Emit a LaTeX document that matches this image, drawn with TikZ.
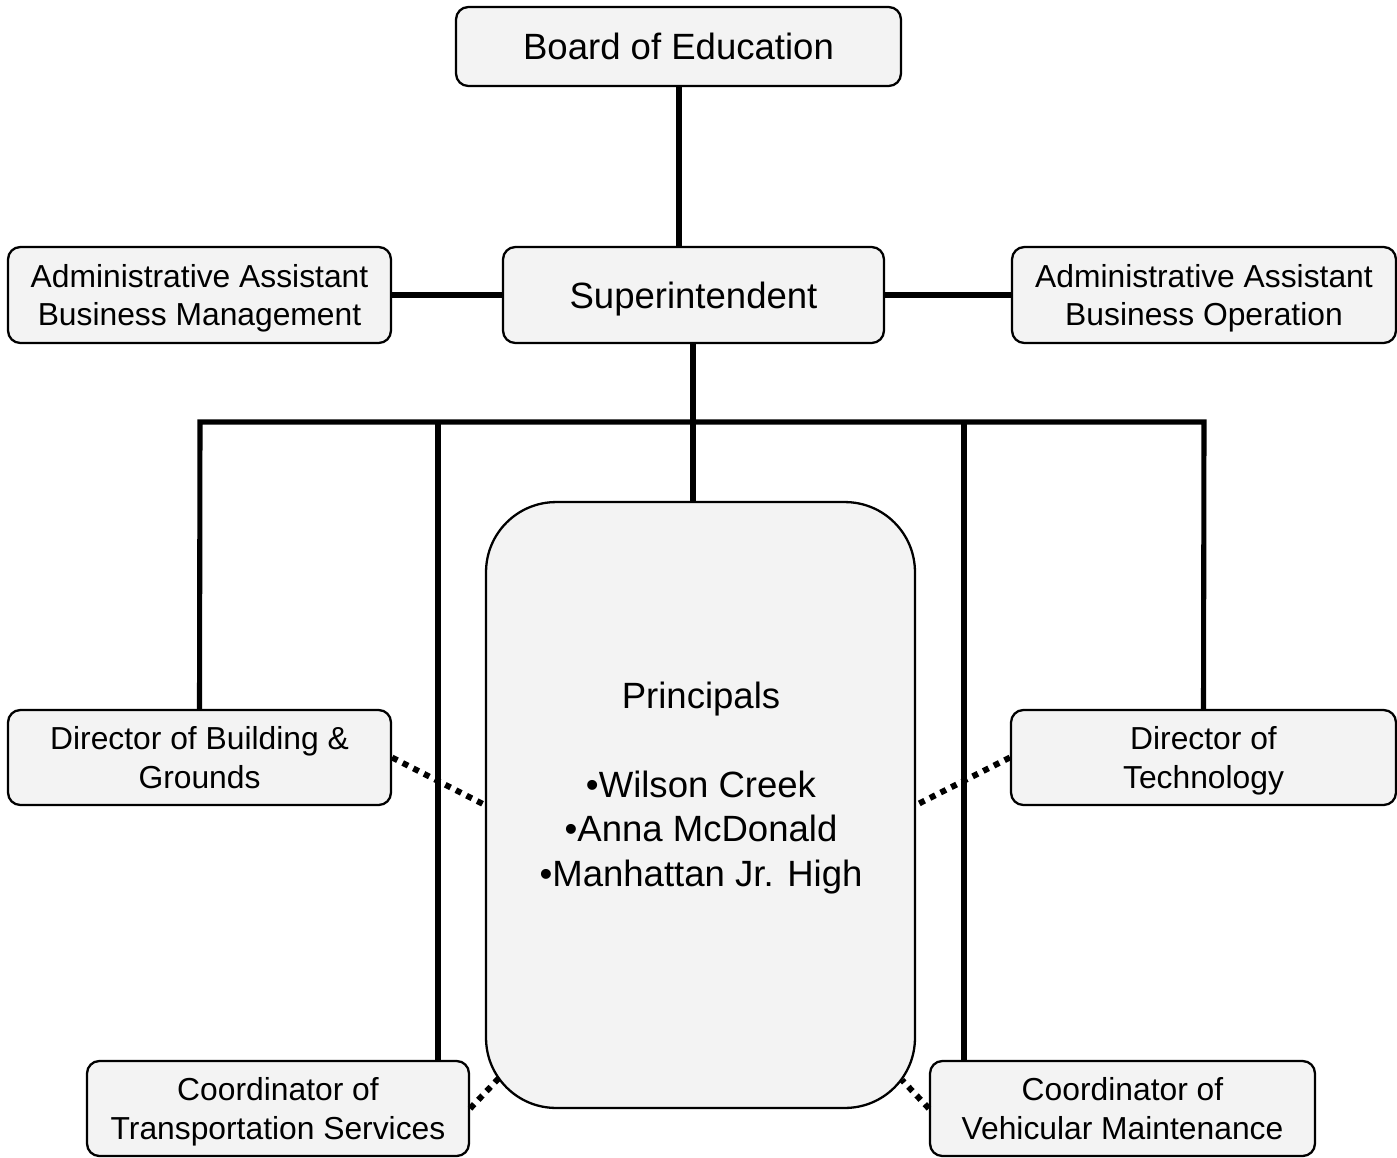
\documentclass[tikz,border=0pt]{standalone}
\usepackage{fontspec}
\setmainfont{Liberation Sans}
\definecolor{boxfill}{HTML}{F3F3F3}
\begin{document}
\begin{tikzpicture}[x=0.02cm,y=-0.02cm,
  box/.style={draw=black,line width=1.3pt,fill=boxfill,rounded corners=7pt,
    align=center,inner sep=0pt,text depth=-1pt,font=\fontsize{18.1}{22}\selectfont},
  bigbox/.style={box,font=\fontsize{20.8}{25}\selectfont},
  conn/.style={line width=2.9pt,line join=miter},
  dots/.style={line width=3.4pt,dash pattern=on 3.4pt off 3.4pt}]
\useasboundingbox (0,0) rectangle (1397,1157);
% nodes
\node[bigbox,minimum width=8.9cm,minimum height=1.58cm] (board) at (678.5,46.5) {Board of Education};
\node[bigbox,minimum width=7.62cm,minimum height=1.92cm] (super) at (693.5,295) {Superintendent};
\node[box,minimum width=7.66cm,minimum height=1.92cm] (aabm) at (199.5,295) {Administrative Assistant\\Business Management};
\node[box,minimum width=7.68cm,minimum height=1.92cm] (aabo) at (1204,295) {Administrative Assistant\\Business Operation};
\node[box,rounded corners=1.4cm,minimum width=8.58cm,minimum height=12.12cm] (prin) at (700.5,805) {};
\node[align=center,font=\fontsize{20.8}{25.5}\selectfont] (ptext) at (701,788) {Principals\\[25pt]•Wilson Creek\\•Anna McDonald\\•Manhattan Jr. High};
\node[box,minimum width=7.66cm,minimum height=1.9cm] (dbg) at (199.5,757.5) {Director of Building \&\\Grounds};
\node[box,minimum width=7.7cm,minimum height=1.9cm] (dt) at (1203.5,757.5) {Director of\\Technology};
\node[box,minimum width=7.64cm,minimum height=1.9cm] (cts) at (278,1108.5) {Coordinator of\\Transportation Services};
\node[box,minimum width=7.7cm,minimum height=1.9cm] (cvm) at (1122.5,1108.5) {Coordinator of\\Vehicular Maintenance};
% coordinates
\coordinate (busL) at (200,422);
\coordinate (busR) at (1204,422);
\coordinate (busM) at (693,422);
\coordinate (busT) at (438,422);
\coordinate (busV) at (964,422);
\coordinate (pl) at (499,1078);
\coordinate (pr) at (902,1080);
% solid connectors
\draw[conn] (board.south -| 679,0) -- (679,0 |- super.north);
\draw[conn] (aabm.east) -- (super.west);
\draw[conn] (super.east) -- (aabo.west);
\draw[conn] (693,0 |- super.south) -- (busM);
\draw[conn] (dbg.north) -- (busL) -- (busR) -- (dt.north);
\draw[conn] (busT) -- (busT |- cts.north);
\draw[conn] (busV) -- (busV |- cvm.north);
\draw[conn] (busM) -- (busM |- prin.north);
% dotted connectors
\draw[dots] (dbg.east) -- (prin.west);
\draw[dots] (dt.west) -- (prin.east);
\draw[dots] (cts.east) -- (pl);
\draw[dots] (cvm.west) -- (pr);
\end{tikzpicture}
\end{document}
